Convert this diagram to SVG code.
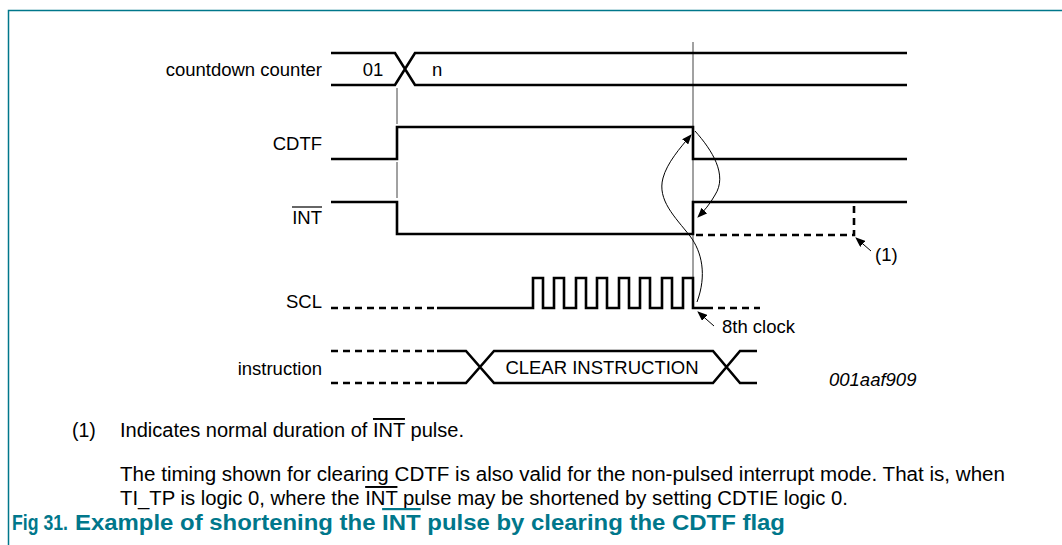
<svg xmlns="http://www.w3.org/2000/svg" width="1062" height="545" viewBox="0 0 1062 545">
<style>
.sig{fill:none;stroke:#000;stroke-width:2.6;stroke-linejoin:miter}
.dash{fill:none;stroke:#000;stroke-width:2.6;stroke-dasharray:7 5}
.guide{fill:none;stroke:#444;stroke-width:1}
.thin{fill:none;stroke:#000;stroke-width:1}
.lbl{font-family:"Liberation Sans",Arial,sans-serif;font-size:18.5px;fill:#000}
.r{text-anchor:end}
.m{text-anchor:middle}
.note{font-family:"Liberation Sans",Arial,sans-serif;font-size:19.5px;fill:#000}
.cap{font-family:"Liberation Sans",Arial,sans-serif;font-size:22px;font-weight:bold;fill:#00778B}
.ov{text-decoration:overline}
</style>
<defs>
<marker id="ah" markerWidth="10" markerHeight="8" refX="9" refY="4" orient="auto" markerUnits="userSpaceOnUse">
<path d="M0,0 L10,4 L0,8 z" fill="#000"/>
</marker>
</defs>
<rect width="1062" height="545" fill="#fff"/>
<g id="frame">
<path d="M1062 10.5 H8.5 V545" fill="none" stroke="#00778B" stroke-width="1.5"/>
</g>
<g id="guides">
<line class="guide" x1="397" y1="88" x2="397" y2="124"/>
<line class="guide" x1="397" y1="162" x2="397" y2="198"/>
<line class="guide" x1="693" y1="42" x2="693" y2="296"/>
</g>
<g id="counter">
<text class="lbl r" x="322" y="76">countdown counter</text>
<path class="sig" d="M331 53 H395 L415 85 H907 M331 85 H395 L415 53 H907"/>
<text class="lbl m" x="373" y="76">01</text>
<text class="lbl" x="432" y="76">n</text>
</g>
<g id="cdtf">
<text class="lbl r" x="322" y="150">CDTF</text>
<path class="sig" d="M331 159 H397 V127 H693 V159 H907"/>
</g>
<g id="int">
<text class="lbl r" x="322" y="224">INT</text>
<line x1="292" y1="207" x2="322" y2="207" stroke="#000" stroke-width="1.2"/>
<path class="sig" d="M331 202 H397 V234 H693 V202 H907"/>
<path class="dash" d="M696 235 H854 V204"/>
</g>
<g id="scl">
<text class="lbl r" x="322" y="308">SCL</text>
<path class="dash" d="M331 308 H434"/>
<path class="sig" d="M437 308 H533 V278 H543 V308 H554 V278 H564 V308 H576 V278 H586 V308 H597 V278 H607 V308 H619 V278 H629 V308 H640 V278 H650 V308 H662 V278 H672 V308 H683 V278 H693 V308 H713"/>
<path class="dash" d="M718 308 H760"/>
</g>
<g id="instruction">
<text class="lbl r" x="322" y="375">instruction</text>
<path class="dash" d="M331 351 H434 M331 383 H434"/>
<path class="sig" d="M437 351 H466 L494 383 H713 L740 351 H757 M437 383 H466 L494 351 H713 L740 383 H757"/>
<text class="lbl m" x="602" y="374">CLEAR INSTRUCTION</text>
</g>
<g id="connectors">
<path class="thin" d="M697 302 C707 275, 702 252, 690 236 C675 217, 657 200, 663 178 C667 163, 680 148, 691 135" marker-end="url(#ah)"/>
<path class="thin" d="M695 131 C712 150, 728 175, 715 195 C710 204, 704 211, 698 217" marker-end="url(#ah)"/>
<line class="thin" x1="871" y1="251" x2="856" y2="238" marker-end="url(#ah)"/>
<line class="thin" x1="714" y1="326" x2="698" y2="312" marker-end="url(#ah)"/>
</g>
<g id="annotations">
<text class="lbl" x="875" y="261" font-size="15">(1)</text>
<text class="lbl" x="722" y="333">8th clock</text>
<text class="lbl" x="829" y="386" font-style="italic" font-size="16">001aaf909</text>
</g>
<g id="notes">
<text class="note" x="72" y="437">(1)</text>
<text class="note" x="120" y="437" textLength="344" lengthAdjust="spacingAndGlyphs">Indicates normal duration of <tspan class="ov">INT</tspan> pulse.</text>
<text class="note" x="120" y="481" textLength="885" lengthAdjust="spacingAndGlyphs">The timing shown for clearing CDTF is also valid for the non-pulsed interrupt mode. That is, when</text>
<text class="note" x="120" y="505" textLength="728" lengthAdjust="spacingAndGlyphs">TI_TP is logic 0, where the <tspan class="ov">INT</tspan> pulse may be shortened by setting CDTIE logic 0.</text>
<text class="cap" x="12" y="530" textLength="56" lengthAdjust="spacingAndGlyphs">Fig 31.</text>
<text class="cap" x="75" y="530" textLength="710" lengthAdjust="spacingAndGlyphs">Example of shortening the <tspan class="ov">INT</tspan> pulse by clearing the CDTF flag</text>
</g>
</svg>
